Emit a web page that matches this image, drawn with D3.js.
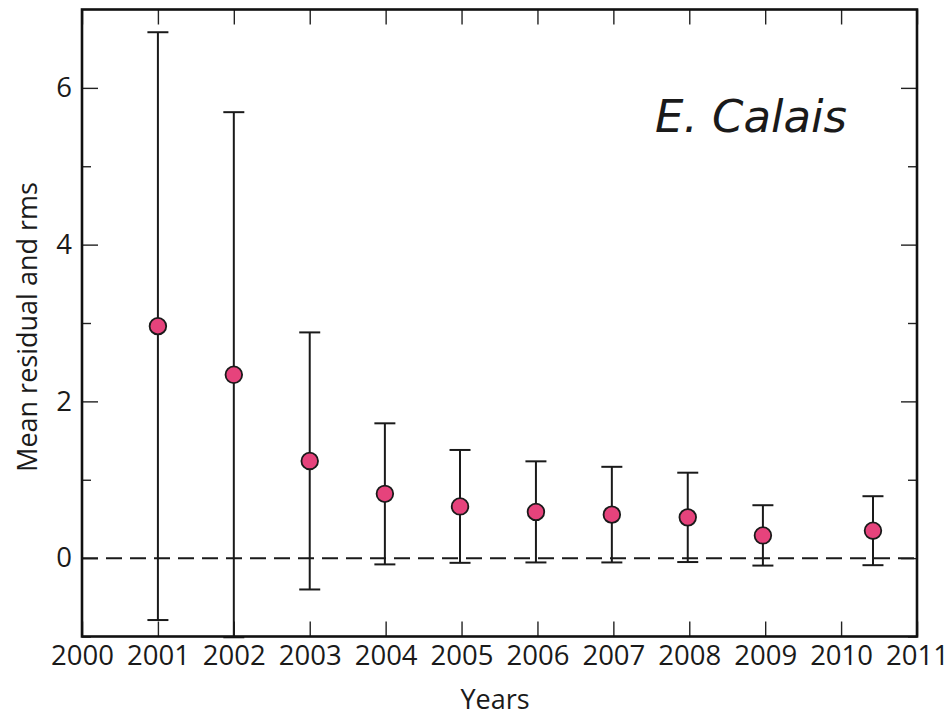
<!DOCTYPE html>
<html>
<head>
<meta charset="utf-8">
<script src="https://cdn.jsdelivr.net/npm/d3@7/dist/d3.min.js"></script>
<style>
  html, body { margin: 0; padding: 0; background: #fff; }
  svg { display: block; }
  text { font-family: "Open Sans", "Noto Sans", sans-serif; fill: #1a1a1a; }
</style>
</head>
<body>
<script>
// Survey epochs (decimal years), mean residual and rms per epoch
const years = [2001.0, 2002.0, 2003.0, 2003.99, 2004.98, 2005.98, 2006.98, 2007.98, 2008.97, 2010.42];
const meanResidual = [2.96, 2.34, 1.24, 0.82, 0.66, 0.59, 0.555, 0.52, 0.29, 0.35];
const rms = [3.75, 3.35, 1.64, 0.90, 0.72, 0.645, 0.61, 0.57, 0.385, 0.44];

const xTicks = [2000, 2001, 2002, 2003, 2004, 2005, 2006, 2007, 2008, 2009, 2010, 2011];
const yMajorTicks = [0, 2, 4, 6];
const yMinorTicks = [-1, 1, 3, 5];

const W = 945, H = 718;
const L = 82, R = 917, T = 9.5, B = 636.5;

const svg = d3.select("body").append("svg").attr("width", W).attr("height", H);

const x = d3.scaleLinear().domain([2000, 2011]).range([L, R]);
const y = d3.scaleLinear().domain([-1, 7]).range([B, T]);

const axisStyle = g => {
  g.select(".domain").remove();
  g.selectAll(".tick line").attr("stroke", "#222").attr("stroke-width", 1.4);
  g.selectAll(".tick text").attr("font-size", 27.5).attr("fill", "#1a1a1a");
};

// bottom axis: inward ticks with year labels
svg.append("g").attr("transform", `translate(0,${B})`)
  .call(d3.axisBottom(x).tickValues(xTicks).tickFormat(d3.format("d"))
    .tickSizeInner(-15).tickSizeOuter(0).tickPadding(9))
  .call(axisStyle);

// top axis: inward ticks only
svg.append("g").attr("transform", `translate(0,${T})`)
  .call(d3.axisTop(x).tickValues(xTicks).tickFormat("")
    .tickSizeInner(-15).tickSizeOuter(0))
  .call(axisStyle);

// left axis: labelled major ticks, shorter minor ticks
svg.append("g").attr("transform", `translate(${L},0)`)
  .call(d3.axisLeft(y).tickValues(yMajorTicks).tickFormat(d3.format("d"))
    .tickSizeInner(-16).tickSizeOuter(0).tickPadding(10))
  .call(axisStyle);
svg.append("g").attr("transform", `translate(${L},0)`)
  .call(d3.axisLeft(y).tickValues(yMinorTicks).tickFormat("")
    .tickSizeInner(-9).tickSizeOuter(0))
  .call(axisStyle);

// right axis: mirror ticks
svg.append("g").attr("transform", `translate(${R},0)`)
  .call(d3.axisRight(y).tickValues(yMajorTicks).tickFormat("")
    .tickSizeInner(-16).tickSizeOuter(0))
  .call(axisStyle);
svg.append("g").attr("transform", `translate(${R},0)`)
  .call(d3.axisRight(y).tickValues(yMinorTicks).tickFormat("")
    .tickSizeInner(-9).tickSizeOuter(0))
  .call(axisStyle);

// zero reference line
svg.append("line")
  .attr("x1", L).attr("x2", R)
  .attr("y1", y(0)).attr("y2", y(0))
  .attr("stroke", "#1a1a1a").attr("stroke-width", 2)
  .attr("stroke-dasharray", "16,8");

// error bars: mean ± rms
const data = years.map((yr, i) => ({ yr, m: meanResidual[i], s: rms[i] }));
const cap = 10.5;
const eb = svg.append("g").attr("stroke", "#1a1a1a").attr("stroke-width", 2);
data.forEach(d => {
  const cx = x(d.yr), y1 = y(d.m + d.s), y0 = y(d.m - d.s);
  eb.append("line").attr("x1", cx).attr("x2", cx).attr("y1", y1).attr("y2", y0);
  eb.append("line").attr("x1", cx - cap).attr("x2", cx + cap).attr("y1", y1).attr("y2", y1);
  eb.append("line").attr("x1", cx - cap).attr("x2", cx + cap).attr("y1", y0).attr("y2", y0);
});

// mean markers
svg.append("g").selectAll("circle").data(data).join("circle")
  .attr("cx", d => x(d.yr)).attr("cy", d => y(d.m)).attr("r", 8.3)
  .attr("fill", "#e6437c").attr("stroke", "#1a1a1a").attr("stroke-width", 1.8);

// plot frame
svg.append("rect")
  .attr("x", L).attr("y", T).attr("width", R - L).attr("height", B - T)
  .attr("fill", "none").attr("stroke", "#111").attr("stroke-width", 2.6);

// axis titles
svg.append("text")
  .attr("x", 495).attr("y", 709).attr("text-anchor", "middle")
  .attr("font-size", 27).text("Years");
svg.append("text")
  .attr("transform", `translate(37,${(T + B) / 2 + 4}) rotate(-90)`)
  .attr("text-anchor", "middle").attr("font-size", 27)
  .text("Mean residual and rms");

// author annotation
svg.append("text")
  .attr("x", 655).attr("y", 132)
  .style("font-family", "'DejaVu Sans', sans-serif")
  .style("font-style", "oblique")
  .attr("font-size", 45)
  .text("E. Calais");
</script>
</body>
</html>
